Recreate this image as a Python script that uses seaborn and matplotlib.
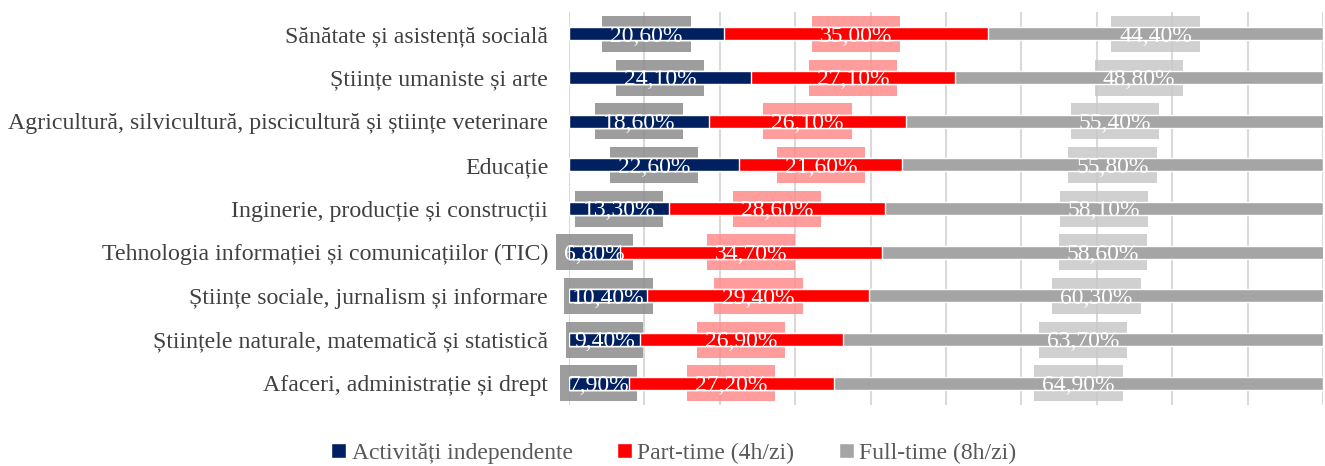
import matplotlib
matplotlib.use("Agg")
import matplotlib.pyplot as plt
from matplotlib.patches import Rectangle
import seaborn as sns
import pandas as pd
import numpy as np

# ----------------------------
# Data
# ----------------------------
categories = [
    "Sănătate și asistență socială",
    "Științe umaniste și arte",
    "Agricultură, silvicultură, piscicultură și științe veterinare",
    "Educație",
    "Inginerie, producție și construcții",
    "Tehnologia informației și comunicațiilor (TIC)",
    "Științe sociale, jurnalism și informare",
    "Științele naturale, matematică și statistică",
    "Afaceri, administrație și drept",
]
independente = [20.6, 24.1, 18.6, 22.6, 13.3, 6.8, 10.4, 9.4, 7.9]
part_time = [35.0, 27.1, 26.1, 21.6, 28.6, 34.7, 29.4, 26.9, 27.2]
full_time = [44.4, 48.8, 55.4, 55.8, 58.1, 58.6, 60.3, 63.7, 64.9]

series_names = ["Activități independente", "Part-time (4h/zi)", "Full-time (8h/zi)"]
colors = ["#002060", "#FF0000", "#A5A5A5"]
box_colors = ["#8C8C8C", "#FF8C8C", "#C8C8C8"]

df = pd.DataFrame({
    "cat": categories,
    "ind": independente,
    "pt": part_time,
    "ft": full_time,
})
df["c1"] = df["ind"]
df["c2"] = df["ind"] + df["pt"]
df["c3"] = df["c2"] + df["ft"]

# ----------------------------
# Figure
# ----------------------------
sns.set_style("white")
plt.rcParams["font.family"] = ["Liberation Serif", "DejaVu Serif"]

fig = plt.figure(figsize=(13.25, 4.66), dpi=100)
ax = fig.add_axes([569 / 1325, 61 / 466, 754 / 1325, 393 / 466])

# stacked bars: draw cumulative totals, largest first
for col, name, c in [("c3", series_names[2], colors[2]),
                     ("c2", series_names[1], colors[1]),
                     ("c1", series_names[0], colors[0])]:
    sns.barplot(data=df, x=col, y="cat", orient="h", color=c, width=0.3,
                saturation=1, ax=ax, label=name, zorder=2)

handles, labels = ax.get_legend_handles_labels()
if ax.get_legend() is not None:
    ax.get_legend().remove()

ax.set_xlim(0, 100)
ax.set_ylim(8.5, -0.5)

# value labels, with a translucent box sitting behind the bars
renderer = fig.canvas.get_renderer()
px_x = 100 / ax.get_window_extent().width      # data units per pixel (x)
px_y = 9 / ax.get_window_extent().height       # data units per pixel (y)
for i, row in df.iterrows():
    starts = [0, row["c1"], row["c2"]]
    vals = [row["ind"], row["pt"], row["ft"]]
    for s, v, bc in zip(starts, vals, box_colors):
        xc = s + v / 2
        txt = f"{v:.2f}%".replace(".", ",")
        t = ax.text(xc, i + 0.05, txt, ha="center", va="center", fontsize=17,
                    color="white", zorder=3, clip_on=False)
        w = (t.get_window_extent(renderer).width + 16) * px_x
        h = 36 * px_y
        ax.add_patch(Rectangle((xc - w / 2, i - h / 2), w, h, fc=bc, ec="none",
                               alpha=0.85, zorder=1, clip_on=False))

ax.set_xticks(np.arange(0, 101, 10))
ax.set_xticklabels([])
ax.grid(axis="x", color="#D9D9D9", linewidth=1.5, zorder=0)
ax.grid(axis="y", visible=False)
ax.set_axisbelow(True)
for sp in ax.spines.values():
    sp.set_visible(False)
ax.set_xlabel("")
ax.set_ylabel("")
ax.tick_params(axis="both", length=0)
ax.tick_params(axis="y", labelsize=17.2, labelcolor="#404040", pad=15)

# legend
order = [labels.index(n) for n in series_names]
fig.legend([handles[k] for k in order], [labels[k] for k in order],
           loc="center", bbox_to_anchor=(0.5087, 0.027), ncol=3, frameon=False,
           fontsize=17, labelcolor="#595959", handlelength=0.6, handleheight=0.6,
           handletextpad=0.25, columnspacing=1.9)

fig.savefig("out.png", dpi=100)
